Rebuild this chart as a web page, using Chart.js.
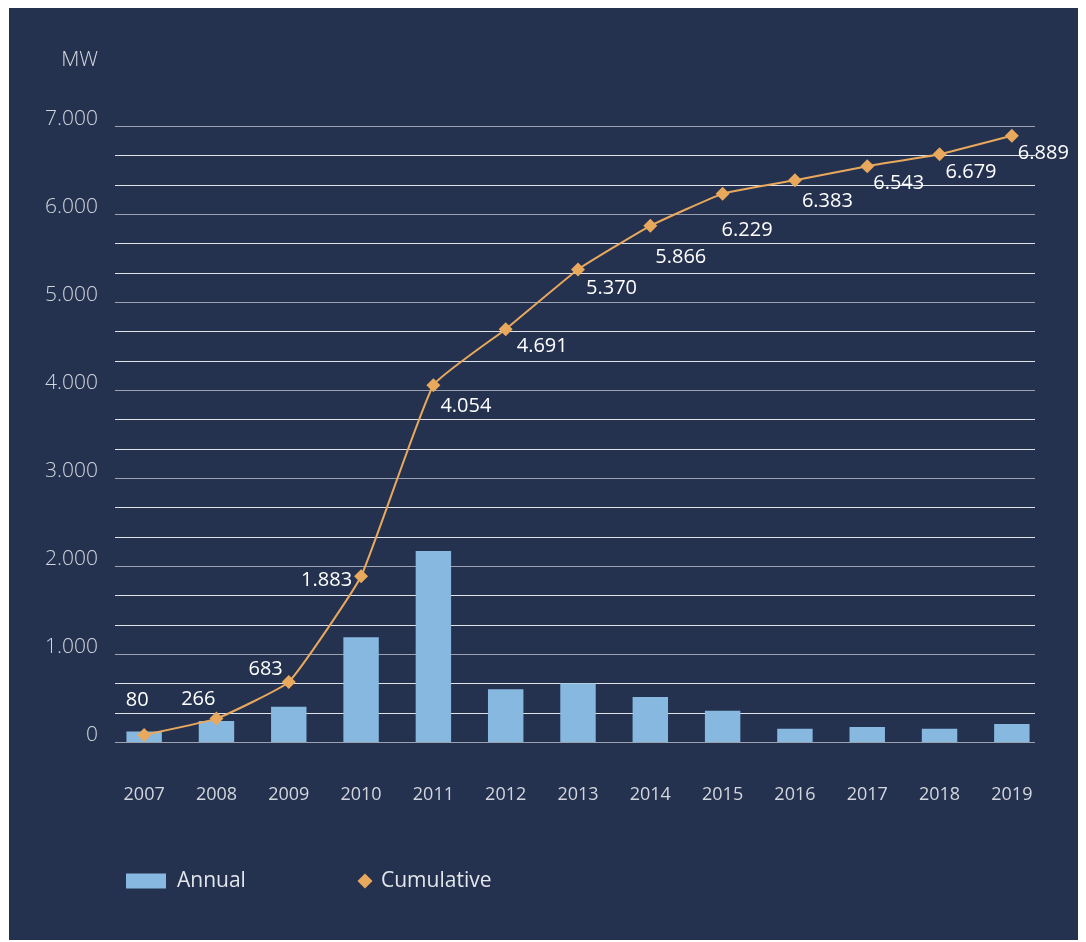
<!DOCTYPE html>
<html>
<head>
<meta charset="utf-8">
<script src="https://cdn.jsdelivr.net/npm/chart.js@4"></script>
<style>
    body { margin: 0; background: #ffffff; }
    #box { position: absolute; left: 9px; top: 8px; width: 1069px; height: 932px; background: #243250; }
</style>
</head>
<body>
<div id="box"><canvas id="MwChart"></canvas></div>
<script>
const years = ['2007', '2008', '2009', '2010', '2011', '2012', '2013', '2014', '2015', '2016', '2017', '2018', '2019'];
const annual = [120, 240, 400, 1190, 2170, 600, 665, 510, 355, 150, 170, 150, 205];
const cumulative = [80, 266, 683, 1883, 4054, 4691, 5370, 5866, 6229, 6383, 6543, 6679, 6889];
const seriesNames = ['Annual', 'Cumulative'];
const unitLabel = 'MW';

const barColor = '#87b8df';
const lineColor = '#e9a95d';
const textColor = '#d3d6dd';
const fontFamily = '"Open Sans", "Noto Sans", sans-serif';

// thousands with a dot: 4054 -> 4.054
function fmt(n) {
    return String(Math.round(n)).replace(/\B(?=(\d{3})+(?!\d))/g, '.');
}
function isThousand(v) {
    const k = v / 1000;
    return Math.abs(k - Math.round(k)) < 0.01;
}

// where each value label sits relative to its point [align, dx, dy]
const labelPlace = [
    ['center', -7, -35],
    ['right', -1, -19],
    ['right', -6, -13],
    ['right', -9, 4],
    ['left', 7, 21],
    ['left', 11, 17],
    ['left', 8, 19],
    ['left', 5, 32],
    ['left', -1, 36],
    ['left', 7, 21],
    ['left', 6, 17],
    ['left', 6, 18],
    ['left', 6, 18]
];

// horizontal grid, a bit narrower than the category band
const gridLines = {
    id: 'gridLines',
    beforeDatasetsDraw(chart) {
        const ctx = chart.ctx;
        const y = chart.scales.y;
        ctx.save();
        ctx.lineWidth = 1;
        y.ticks.forEach((t, i) => {
            const py = Math.round(y.getPixelForTick(i)) + 0.5;
            ctx.strokeStyle = isThousand(t.value) ? '#9da3ae' : '#dfe2e7';
            ctx.beginPath();
            ctx.moveTo(106, py);
            ctx.lineTo(1026, py);
            ctx.stroke();
        });
        ctx.restore();
    }
};

const extras = {
    id: 'extras',
    afterDatasetsDraw(chart) {
        const ctx = chart.ctx;
        ctx.save();
        ctx.textBaseline = 'middle';
        ctx.font = '300 21px ' + fontFamily;
        ctx.fillStyle = textColor;
        ctx.textAlign = 'right';
        ctx.fillText(unitLabel, 89, 52);

        // value labels on the cumulative line
        ctx.font = '20px ' + fontFamily;
        ctx.fillStyle = '#ffffff';
        const meta = chart.getDatasetMeta(1);
        meta.data.forEach((pt, i) => {
            const p = labelPlace[i];
            ctx.textAlign = p[0];
            ctx.fillText(fmt(cumulative[i]), pt.x + p[1], pt.y + p[2]);
        });

        // legend
        const ly = 873;
        ctx.font = '21px ' + fontFamily;
        ctx.fillStyle = '#e3e6eb';
        ctx.textAlign = 'left';
        ctx.fillText(seriesNames[0], 168, ly);
        ctx.fillText(seriesNames[1], 372, ly);
        ctx.fillStyle = barColor;
        ctx.fillRect(117, ly - 7.5, 40, 15);
        ctx.fillStyle = lineColor;
        ctx.beginPath();
        ctx.moveTo(356, ly - 7.5);
        ctx.lineTo(363.5, ly);
        ctx.lineTo(356, ly + 7.5);
        ctx.lineTo(348.5, ly);
        ctx.closePath();
        ctx.fill();
        ctx.restore();
    }
};

const data = {
    labels: years,
    datasets: [{
        type: 'bar',
        label: seriesNames[0],
        data: annual,
        backgroundColor: barColor,
        borderWidth: 0,
        barPercentage: 0.49,
        categoryPercentage: 1,
        order: 2
    }, {
        type: 'line',
        label: seriesNames[1],
        data: cumulative,
        borderColor: lineColor,
        backgroundColor: lineColor,
        borderWidth: 2,
        tension: 0.12,
        pointStyle: 'rectRot',
        pointRadius: 7,
        pointHoverRadius: 7,
        pointBorderWidth: 0,
        fill: false,
        order: 1
    }]
};

const config = {
    type: 'bar',
    data: data,
    options: {
        responsive: true,
        maintainAspectRatio: false,
        animation: false,
        layout: {
            padding: { left: 32, right: 30, top: 118, bottom: 128 }
        },
        scales: {
            x: {
                offset: true,
                grid: { display: false, drawTicks: false },
                border: { display: false },
                ticks: {
                    color: textColor,
                    font: { family: fontFamily, size: 18 },
                    padding: 42,
                    maxRotation: 0
                },
                afterFit: function (scale) { scale.height = 70; }
            },
            y: {
                min: 0,
                max: 7000,
                grid: { display: false, drawTicks: false },
                border: { display: false },
                ticks: {
                    stepSize: 7000 / 21,
                    autoSkip: false,
                    color: textColor,
                    font: { family: fontFamily, size: 21, weight: '300', lineHeight: 0.7 },
                    padding: 10,
                    // empty second line lifts the label a little above its grid line
                    callback: function (value) {
                        return isThousand(value) ? [fmt(value), ''] : '';
                    }
                },
                afterFit: function (scale) { scale.width = 67; }
            }
        },
        plugins: {
            tooltip: { enabled: false },
            legend: { display: false }
        }
    },
    plugins: [gridLines, extras]
};

const MwChart = new Chart(
    document.getElementById('MwChart'),
    config
);
</script>
</body>
</html>
